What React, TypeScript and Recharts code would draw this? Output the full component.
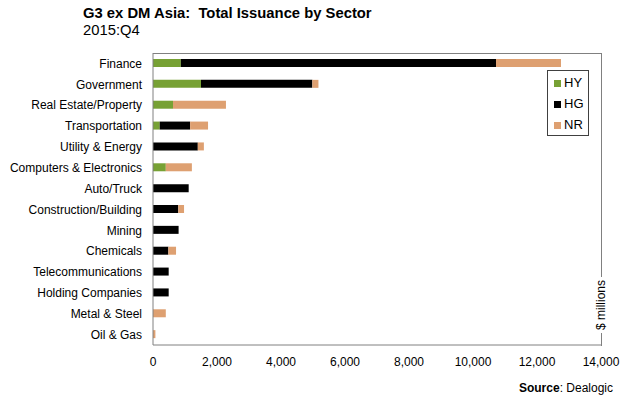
import React from "react";
import { BarChart, Bar, XAxis, YAxis } from "recharts";

const categories = [
  "Finance",
  "Government",
  "Real Estate/Property",
  "Transportation",
  "Utility & Energy",
  "Computers & Electronics",
  "Auto/Truck",
  "Construction/Building",
  "Mining",
  "Chemicals",
  "Telecommunications",
  "Holding Companies",
  "Metal & Steel",
  "Oil & Gas",
];
const hyValues = [870, 1500, 625, 210, 0, 400, 0, 0, 0, 0, 0, 0, 0, 0];
const hgValues = [9850, 3480, 0, 950, 1400, 0, 1115, 790, 800, 480, 490, 490, 0, 0];
const nrValues = [2030, 190, 1655, 560, 190, 815, 0, 180, 0, 240, 0, 0, 400, 75];
const xTicks = [0, 2000, 4000, 6000, 8000, 10000, 12000, 14000];
const seriesNames = ["HY", "HG", "NR"];
const seriesColors = ["#77A134", "#000000", "#DEA071"];

const data = categories.map((name, i) => ({
  name,
  HY: hyValues[i],
  HG: hgValues[i],
  NR: nrValues[i],
}));

const FONT = "'Liberation Sans', Arial, sans-serif";

const CatTick = (props: any) => {
  const { x, y, payload } = props;
  return (
    <text
      x={x}
      y={y}
      dy="0.355em"
      textAnchor="end"
      fontSize={12}
      fill="#000"
      fontFamily={FONT}
    >
      {payload.value}
    </text>
  );
};

export default function App() {
  return (
    <div
      style={{
        position: "absolute",
        left: 0,
        top: 0,
        width: 621,
        height: 400,
        background: "#fff",
        fontFamily: FONT,
      }}
    >
      <div
        style={{
          position: "absolute",
          left: 83,
          top: 5,
          fontSize: 14.8,
          fontWeight: "bold",
          whiteSpace: "pre",
          lineHeight: "17px",
          color: "#000",
        }}
      >
        {"G3 ex DM Asia:  Total Issuance by Sector"}
      </div>
      <div
        style={{
          position: "absolute",
          left: 83,
          top: 22,
          fontSize: 14.8,
          lineHeight: "17px",
          color: "#000",
        }}
      >
        2015:Q4
      </div>
      <BarChart
        width={621}
        height={400}
        data={data}
        layout="vertical"
        margin={{ top: 53, right: 20, bottom: 25, left: 0 }}
        barSize={8}
      >
        <XAxis
          type="number"
          domain={[0, 14000]}
          ticks={xTicks}
          height={30}
          tickLine={false}
          axisLine={{ stroke: "#808080" }}
          tick={{ fontSize: 12, fill: "#000", fontFamily: FONT }}
          tickMargin={6}
          tickFormatter={(v: number) => v.toLocaleString("en-US")}
          interval={0}
        />
        <YAxis
          type="category"
          dataKey="name"
          width={153}
          tickLine={false}
          axisLine={{ stroke: "#808080" }}
          tick={<CatTick />}
          tickMargin={5}
          interval={0}
        />
        {seriesNames.map((s, i) => (
          <Bar
            key={s}
            dataKey={s}
            stackId="a"
            fill={seriesColors[i]}
            isAnimationActive={false}
          />
        ))}
      </BarChart>
      <div
        style={{
          position: "absolute",
          left: 153,
          top: 53,
          width: 449,
          height: 293,
          boxSizing: "border-box",
          borderTop: "1px solid #808080",
          borderRight: "1px solid #808080",
          pointerEvents: "none",
        }}
      />
      <div
        style={{
          position: "absolute",
          left: 547,
          top: 70,
          width: 40,
          height: 64,
          border: "1px solid #404040",
          background: "#fff",
        }}
      >
        {seriesNames.map((s, i) => (
          <div
            key={s}
            style={{
              position: "absolute",
              left: 6,
              top: 5 + i * 21,
              height: 14,
              display: "flex",
              alignItems: "center",
              fontSize: 13,
              color: "#000",
              lineHeight: "14px",
            }}
          >
            <span
              style={{
                display: "inline-block",
                width: 7,
                height: 7,
                background: seriesColors[i],
                marginRight: 3,
              }}
            />
            {s}
          </div>
        ))}
      </div>
      <div
        style={{
          position: "absolute",
          left: 601,
          top: 305,
          transform: "translate(-50%, -50%) rotate(-90deg)",
          background: "#fff",
          fontSize: 12,
          lineHeight: "13px",
          whiteSpace: "nowrap",
          padding: "0 3px",
          color: "#000",
        }}
      >
        $ millions
      </div>
      <div
        style={{
          position: "absolute",
          right: 8,
          top: 381,
          fontSize: 12,
          lineHeight: "14px",
          color: "#000",
          whiteSpace: "pre",
        }}
      >
        <b>Source</b>: Dealogic
      </div>
    </div>
  );
}
